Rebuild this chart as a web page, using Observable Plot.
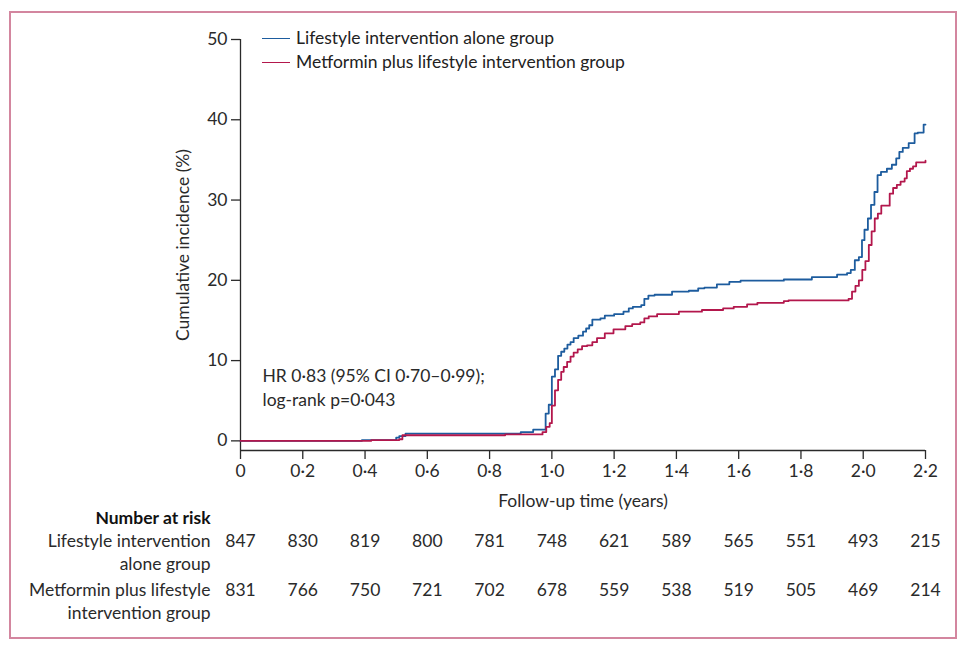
<!DOCTYPE html>
<html>
<head>
<meta charset="utf-8">
<script src="https://cdn.jsdelivr.net/npm/d3@7"></script>
<script src="https://cdn.jsdelivr.net/npm/@observablehq/plot@0.6"></script>
<style>
  html, body { margin: 0; padding: 0; background: #fff; }
  #wrap { position: relative; width: 966px; height: 647px; font-family: Lato, "Open Sans", sans-serif; }
  #border { position: absolute; left: 9px; top: 11px; width: 944px; height: 624px; border: 2px solid #d3869f; pointer-events: none; }
  #legend { position: absolute; left: 262px; top: 26px; font-size: 17.5px; color: #222; line-height: 24px; }
  #legend .row { display: flex; align-items: center; }
  #legend .sw { display: inline-block; width: 28px; height: 0; border-top: 1.8px solid; margin-right: 6px; }
</style>
</head>
<body>
<div id="wrap">
  <div id="chart"></div>
  <div id="legend"></div>
  <div id="border"></div>
</div>
<script>
// ---- Data ----
const seriesNames = ["Lifestyle intervention alone group", "Metformin plus lifestyle intervention group"];
const seriesColors = ["#1d5c9e", "#b3174c"];

const lifestyleTimes = [0, 0.39, 0.50, 0.51, 0.53, 0.90, 0.94, 0.98, 0.99, 1.00, 1.01, 1.02, 1.03, 1.04, 1.05, 1.06, 1.07, 1.085, 1.10, 1.11, 1.12, 1.13, 1.156, 1.17, 1.20, 1.23, 1.247, 1.26, 1.287, 1.297, 1.31, 1.33, 1.386, 1.44, 1.47, 1.49, 1.53, 1.57, 1.606, 1.745, 1.835, 1.916, 1.948, 1.96, 1.973, 1.986, 1.996, 2.004, 2.015, 2.025, 2.036, 2.046, 2.057, 2.076, 2.092, 2.106, 2.116, 2.127, 2.146, 2.165, 2.175, 2.194, 2.2];
const lifestyleIncidence = [0, 0.1, 0.4, 0.6, 0.9, 1.1, 1.4, 3.4, 4.5, 8.0, 8.9, 10.6, 11.1, 11.5, 12.0, 12.3, 12.8, 13.1, 13.6, 14.0, 14.4, 15.1, 15.25, 15.6, 15.8, 16.1, 16.5, 16.7, 16.9, 17.7, 18.1, 18.2, 18.6, 18.7, 19.0, 19.1, 19.5, 19.8, 19.95, 20.1, 20.4, 20.7, 20.9, 21.3, 22.5, 22.9, 25.0, 26.3, 27.7, 29.4, 31.0, 33.1, 33.5, 33.9, 34.4, 35.2, 36.0, 36.5, 37.1, 38.3, 38.4, 39.4, 39.4];

const metforminTimes = [0, 0.42, 0.51, 0.52, 0.85, 0.97, 0.982, 0.993, 1.0, 1.01, 1.02, 1.03, 1.038, 1.049, 1.06, 1.07, 1.083, 1.097, 1.113, 1.13, 1.145, 1.17, 1.198, 1.236, 1.258, 1.284, 1.297, 1.311, 1.338, 1.408, 1.482, 1.55, 1.584, 1.627, 1.66, 1.745, 1.76, 1.953, 1.964, 1.975, 1.986, 1.997, 2.007, 2.018, 2.027, 2.037, 2.047, 2.058, 2.085, 2.096, 2.108, 2.12, 2.133, 2.14, 2.15, 2.16, 2.17, 2.2];
const metforminIncidence = [0, 0.1, 0.2, 0.7, 0.8, 1.1, 1.75, 2.2, 4.4, 6.3, 7.6, 8.6, 9.2, 9.85, 10.5, 11.0, 11.4, 11.8, 11.9, 12.3, 12.8, 13.4, 13.9, 14.3, 14.55, 14.75, 15.25, 15.5, 15.8, 16.1, 16.3, 16.5, 16.7, 17.0, 17.2, 17.4, 17.5, 17.7, 18.6, 19.3, 20.0, 21.3, 22.4, 24.4, 26.1, 27.7, 28.3, 29.3, 30.8, 31.5, 31.9, 32.3, 32.7, 33.6, 33.9, 34.2, 34.7, 34.9];

const xTicks = [0, 0.2, 0.4, 0.6, 0.8, 1.0, 1.2, 1.4, 1.6, 1.8, 2.0, 2.2];
const yTicks = [0, 10, 20, 30, 40, 50];

const riskTimes = [0, 0.2, 0.4, 0.6, 0.8, 1.0, 1.2, 1.4, 1.6, 1.8, 2.0, 2.2];
const riskLifestyle = [847, 830, 819, 800, 781, 748, 621, 589, 565, 551, 493, 215];
const riskMetformin = [831, 766, 750, 721, 702, 678, 559, 538, 519, 505, 469, 214];
const riskRow1Label = ["Lifestyle intervention", "alone group"];
const riskRow2Label = ["Metformin plus lifestyle", "intervention group"];

const annotationLines = ["HR 0·83 (95% CI 0·70–0·99);", "log-rank p=0·043"];
const xLabel = "Follow-up time (years)";
const yLabel = "Cumulative incidence (%)";

// ---- Build tables ----
const curves = [
  ...lifestyleTimes.map((t, i) => ({t, v: lifestyleIncidence[i], group: seriesNames[0]})),
  ...metforminTimes.map((t, i) => ({t, v: metforminIncidence[i], group: seriesNames[1]}))
];
const risk1 = riskTimes.map((t, i) => ({t, n: riskLifestyle[i]}));
const risk2 = riskTimes.map((t, i) => ({t, n: riskMetformin[i]}));
const fmt = d => d === 0 ? "0" : d.toFixed(1).replace(".", "·");

const FONT = "Lato, 'Open Sans', sans-serif";
const ink = "#2a2a2a";
const FS = 17.5;

const plot = Plot.plot({
  width: 966,
  height: 647,
  marginLeft: 240,
  marginRight: 41,
  marginTop: 39,
  marginBottom: 197,
  style: {fontFamily: FONT, fontSize: FS + "px", color: ink, background: "transparent", overflow: "visible"},
  x: {domain: [0, 2.2]},
  y: {domain: [-1.2, 50]},
  color: {domain: seriesNames, range: seriesColors},
  marks: [
    Plot.axisX({ticks: xTicks, tickFormat: fmt, tickSize: 9, tickPadding: 5, label: null, stroke: ink, strokeWidth: 1.3, fontSize: FS}),
    Plot.axisY({ticks: yTicks, tickSize: 9, tickPadding: 4, label: null, stroke: ink, strokeWidth: 1.3, fontSize: FS}),
    Plot.ruleX([0], {stroke: ink, strokeWidth: 1.3}),
    Plot.ruleY([-1.2], {stroke: ink, strokeWidth: 1.3}),
    Plot.line(curves, {x: "t", y: "v", stroke: "group", z: "group", curve: "step-after", strokeWidth: 1.8}),
    // axis titles
    Plot.text([xLabel], {text: d => d, frameAnchor: "bottom", dy: 56, fontSize: FS, fill: ink}),
    Plot.text([yLabel], {text: d => d, frameAnchor: "left", dx: -57, dy: 0, rotate: -90, textAnchor: "middle", fontSize: FS, fill: ink}),
    // annotation
    Plot.text([annotationLines[0]], {text: d => d, frameAnchor: "bottom-left", dx: 22, dy: -69, textAnchor: "start", fontSize: FS, fill: ink}),
    Plot.text([annotationLines[1]], {text: d => d, frameAnchor: "bottom-left", dx: 22, dy: -45, textAnchor: "start", fontSize: FS, fill: ink}),
    // risk table
    Plot.text(["Number at risk"], {text: d => d, frameAnchor: "bottom-left", dx: -30, dy: 73, textAnchor: "end", fontWeight: "bold", fontSize: FS, fill: "#111"}),
    Plot.text([riskRow1Label[0]], {text: d => d, frameAnchor: "bottom-left", dx: -30, dy: 96, textAnchor: "end", fontSize: FS, fill: ink}),
    Plot.text([riskRow1Label[1]], {text: d => d, frameAnchor: "bottom-left", dx: -30, dy: 119, textAnchor: "end", fontSize: FS, fill: ink}),
    Plot.text([riskRow2Label[0]], {text: d => d, frameAnchor: "bottom-left", dx: -30, dy: 145, textAnchor: "end", fontSize: FS, fill: ink}),
    Plot.text([riskRow2Label[1]], {text: d => d, frameAnchor: "bottom-left", dx: -30, dy: 168, textAnchor: "end", fontSize: FS, fill: ink}),
    Plot.text(risk1, {x: "t", text: d => String(d.n), frameAnchor: "bottom", dy: 96, fontSize: FS, fill: ink}),
    Plot.text(risk2, {x: "t", text: d => String(d.n), frameAnchor: "bottom", dy: 145, fontSize: FS, fill: ink})
  ]
});
document.getElementById("chart").appendChild(plot);

// legend
const legend = document.getElementById("legend");
seriesNames.forEach((name, i) => {
  const row = document.createElement("div");
  row.className = "row";
  const sw = document.createElement("span");
  sw.className = "sw";
  sw.style.borderTopColor = seriesColors[i];
  const lab = document.createElement("span");
  lab.textContent = name;
  row.appendChild(sw);
  row.appendChild(lab);
  legend.appendChild(row);
});
</script>
</body>
</html>
